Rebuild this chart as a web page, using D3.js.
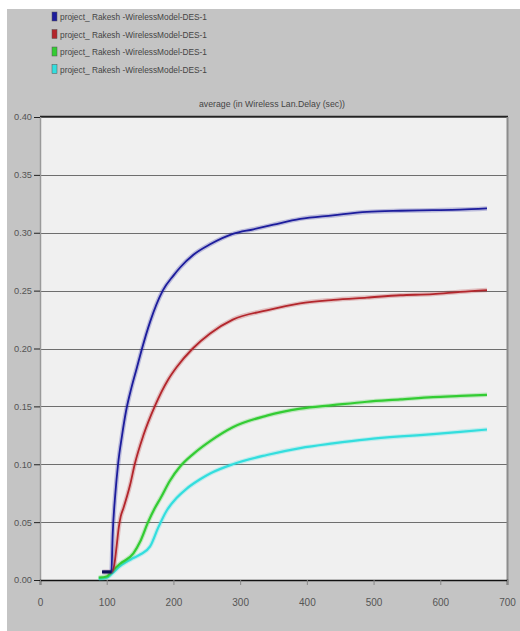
<!DOCTYPE html>
<html>
<head>
<meta charset="utf-8">
<script src="https://cdn.jsdelivr.net/npm/d3@7"></script>
<style>
body { margin: 0; background: #fff; }
text { font-family: "Liberation Sans", Arial, sans-serif; }
</style>
</head>
<body>
<script>
var w = 520;
var h = 631;

var seriesNames = ["project_ Rakesh -WirelessModel-DES-1", "project_ Rakesh -WirelessModel-DES-1",
    "project_ Rakesh -WirelessModel-DES-1", "project_ Rakesh -WirelessModel-DES-1"];
var seriesColors = ["#1c1c9c", "#b3262c", "#33cc33", "#33dede"];

var blueX = [93, 107, 109, 113, 117, 123, 129, 137, 145, 152, 165, 184, 200, 210, 230, 255, 289, 320, 350, 390, 439, 490, 540, 589, 630, 670];
var blueY = [0.007, 0.007, 0.04, 0.075, 0.10, 0.125, 0.146, 0.166, 0.183, 0.198, 0.223, 0.25, 0.263, 0.27, 0.281, 0.29, 0.299, 0.303, 0.307, 0.312, 0.315, 0.318, 0.319, 0.3195, 0.320, 0.321];

var redX = [95, 107, 111, 115, 118, 121, 125, 135, 142, 155, 172, 192, 205, 229, 255, 289, 340, 390, 440, 490, 540, 589, 630, 670];
var redY = [0.007, 0.007, 0.012, 0.03, 0.045, 0.055, 0.062, 0.082, 0.10, 0.125, 0.15, 0.173, 0.184, 0.20, 0.213, 0.225, 0.233, 0.239, 0.242, 0.244, 0.246, 0.247, 0.249, 0.2505];

var greenX = [88, 100, 107, 120, 140, 150, 162, 172, 180, 195, 210, 230, 255, 289, 340, 390, 439, 490, 540, 589, 630, 670];
var greenY = [0.002, 0.003, 0.007, 0.014, 0.023, 0.033, 0.05, 0.062, 0.07, 0.086, 0.098, 0.109, 0.12, 0.132, 0.142, 0.148, 0.151, 0.154, 0.156, 0.158, 0.159, 0.160];

var cyanX = [88, 100, 107, 120, 140, 150, 165, 177, 190, 205, 220, 240, 255, 289, 340, 390, 439, 490, 540, 589, 630, 670];
var cyanY = [0.001, 0.002, 0.005, 0.012, 0.019, 0.022, 0.029, 0.045, 0.06, 0.071, 0.079, 0.087, 0.092, 0.10, 0.108, 0.114, 0.118, 0.1215, 0.124, 0.126, 0.128, 0.130];

var xTicks = [0, 100, 200, 300, 400, 500, 600, 700];
var yTicks = [0, 0.05, 0.10, 0.15, 0.20, 0.25, 0.30, 0.35, 0.40];
var title = "average (in Wireless Lan.Delay (sec))";

var allX = [blueX, redX, greenX, cyanX];
var allY = [blueY, redY, greenY, cyanY];

var plotL = 40, plotR = 507, plotT = 117, plotB = 580;

var x = d3.scaleLinear().domain([0, 700]).range([plotL, plotR]);
var y = d3.scaleLinear().domain([0, 0.40]).range([plotB, plotT]);

var svg = d3.select("body")
    .append("svg")
    .attr("width", w)
    .attr("height", h);

// gray panel
svg.append("rect")
    .attr("x", 7)
    .attr("y", 9)
    .attr("width", w - 7)
    .attr("height", h - 9)
    .attr("fill", "#c4c4c4");

// plot area
svg.append("rect")
    .attr("x", plotL)
    .attr("y", plotT)
    .attr("width", plotR - plotL)
    .attr("height", plotB - plotT)
    .attr("fill", "#f0f0f0");

// grid lines
svg.selectAll("line.grid")
    .data(yTicks.slice(1))
    .enter()
    .append("line")
    .attr("class", "grid")
    .attr("x1", plotL)
    .attr("x2", plotR)
    .attr("y1", function(d) { return Math.round(y(d)) + 0.5; })
    .attr("y2", function(d) { return Math.round(y(d)) + 0.5; })
    .attr("stroke", "#6e6e6e")
    .attr("stroke-width", 1);

// borders
svg.append("line")
    .attr("x1", plotL).attr("x2", plotR + 1)
    .attr("y1", plotT - 0.5).attr("y2", plotT - 0.5)
    .attr("stroke", "#222").attr("stroke-width", 1.5);
svg.append("line")
    .attr("x1", plotR + 0.5).attr("x2", plotR + 0.5)
    .attr("y1", plotT).attr("y2", plotB)
    .attr("stroke", "#8c8c8c").attr("stroke-width", 2);
svg.append("line")
    .attr("x1", plotL + 0.5).attr("x2", plotL + 0.5)
    .attr("y1", plotT).attr("y2", plotB)
    .attr("stroke", "#9a9a9a").attr("stroke-width", 1.5);

// y axis
var yAxis = d3.axisLeft(y)
    .tickValues(yTicks)
    .tickSize(6)
    .tickPadding(2)
    .tickFormat(d3.format(".2f"));
var gy = svg.append("g")
    .attr("transform", "translate(" + plotL + ",0)")
    .call(yAxis);
gy.select(".domain").remove();
gy.selectAll("line").attr("stroke", "#222");
gy.selectAll("text")
    .attr("font-size", "9px")
    .attr("fill", "#555")
    .attr("textLength", 18)
    .attr("lengthAdjust", "spacingAndGlyphs")
    .style("font-family", "'Liberation Sans', sans-serif");

// x axis
var xAxis = d3.axisBottom(x)
    .tickValues(xTicks)
    .tickSize(5)
    .tickPadding(14)
    .tickFormat(d3.format("d"));
var gx = svg.append("g")
    .attr("transform", "translate(0," + plotB + ")")
    .call(xAxis);
gx.select(".domain").attr("stroke", "#111").attr("stroke-width", 1.5);
gx.selectAll("line").attr("stroke", "#888");
gx.selectAll("text")
    .attr("font-size", "10px")
    .attr("fill", "#555")
    .style("font-family", "'Liberation Sans', sans-serif");

// curves
var line = d3.line()
    .x(function(d) { return x(d[0]); })
    .y(function(d) { return y(d[1]); })
    .curve(d3.curveMonotoneX);

var order = [3, 2, 1, 0];
order.forEach(function(s) {
    var pts = allX[s].map(function(v, i) { return [v, allY[s][i]]; });
    svg.append("path")
        .datum(pts)
        .attr("d", line)
        .attr("fill", "none")
        .attr("stroke", seriesColors[s])
        .attr("stroke-opacity", 0.25)
        .attr("stroke-width", 4.5);
    svg.append("path")
        .datum(pts)
        .attr("d", line)
        .attr("fill", "none")
        .attr("stroke", seriesColors[s])
        .attr("stroke-width", s < 2 ? 1.8 : 2.2);
});

// dark start segment of the blue series
svg.append("line")
    .attr("x1", x(blueX[0])).attr("x2", x(blueX[1]))
    .attr("y1", y(blueY[0])).attr("y2", y(blueY[1]))
    .attr("stroke", "#10105a").attr("stroke-width", 3);

// title
svg.append("text")
    .text(title)
    .attr("x", 272)
    .attr("y", 107)
    .attr("text-anchor", "middle")
    .attr("font-size", "9.5px")
    .attr("textLength", 146)
    .attr("lengthAdjust", "spacingAndGlyphs")
    .attr("fill", "#444");

// legend
var legend = svg.selectAll("g.legend")
    .data(seriesNames)
    .enter()
    .append("g")
    .attr("class", "legend")
    .attr("transform", function(d, i) { return "translate(52," + (12 + i * 17.5) + ")"; });

legend.append("rect")
    .attr("width", 5)
    .attr("height", 9)
    .attr("fill", function(d, i) { return seriesColors[i]; })
    .attr("stroke", "#555")
    .attr("stroke-width", 0.5);

legend.append("text")
    .text(function(d) { return d; })
    .attr("x", 8)
    .attr("y", 8)
    .attr("font-size", "9.5px")
    .attr("textLength", 147)
    .attr("lengthAdjust", "spacingAndGlyphs")
    .attr("fill", "#444");
</script>
</body>
</html>
